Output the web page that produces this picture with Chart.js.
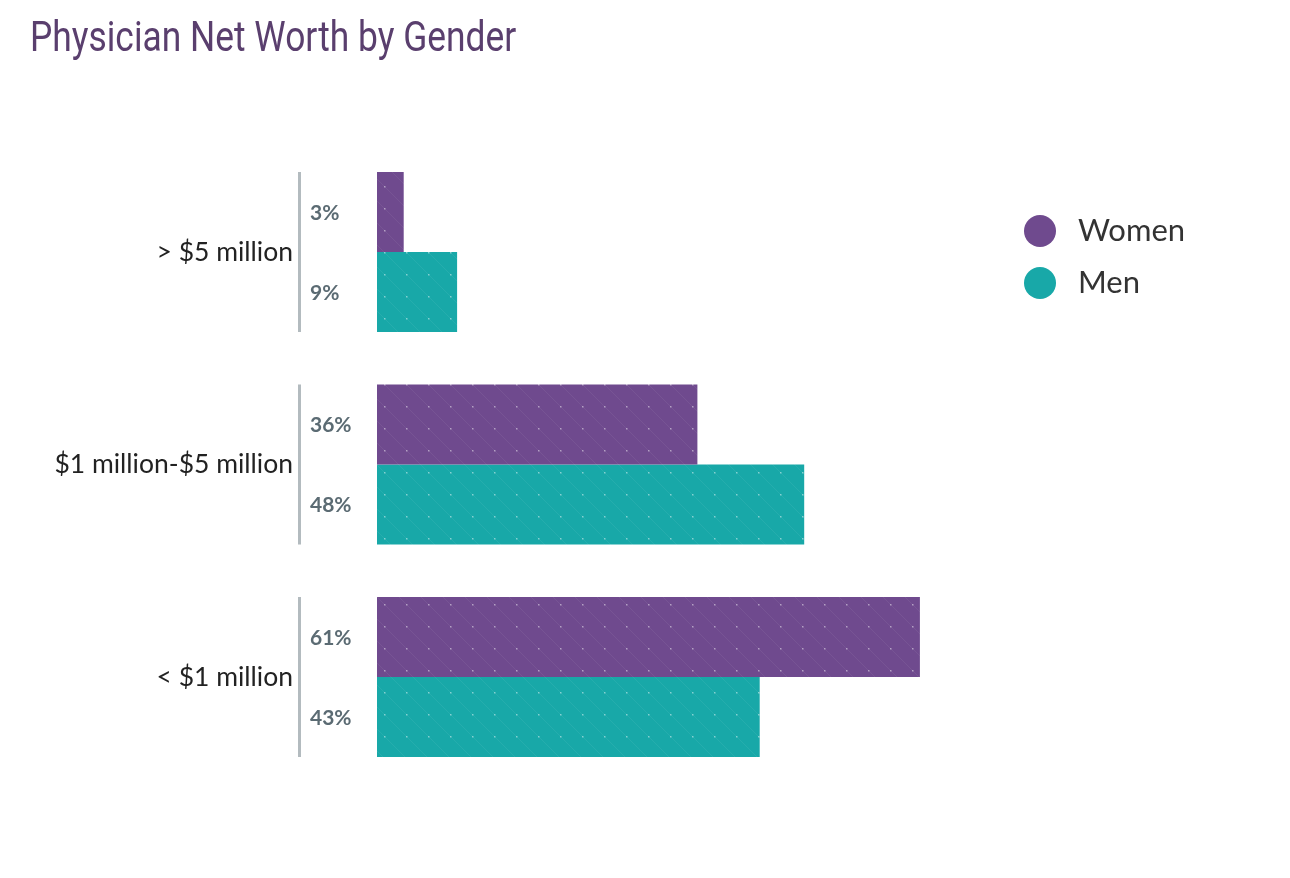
<!DOCTYPE html>
<html>
<head>
<meta charset="utf-8">
<script src="https://cdn.jsdelivr.net/npm/chart.js@4.4.1/dist/chart.umd.min.js"></script>
<style>
  html, body { margin: 0; padding: 0; background: #ffffff; }
  #wrap { position: relative; width: 1290px; height: 878px; }
  #title {
    position: absolute; left: 30px; top: 12px; margin: 0;
    font-family: Roboto, "Liberation Sans", sans-serif; font-weight: 400;
    font-size: 42px; color: #5a3f6e; white-space: nowrap;
    transform: scaleX(0.842); transform-origin: left top; letter-spacing: 0px;
  }
  canvas { position: absolute; left: 0; top: 0; }
</style>
</head>
<body>
<div id="wrap">
  <canvas id="c" width="1290" height="878"></canvas>
  <h1 id="title">Physician Net Worth by Gender</h1>
</div>
<script>
const categories = ['> $5 million', '$1 million-$5 million', '< $1 million'];
const seriesNames = ['Women', 'Men'];
const women = [3, 36, 61];
const men = [9, 48, 43];
const seriesColors = ['#6f4a8e', '#18a8a8'];

function makePattern(base) {
  const t = document.createElement('canvas');
  t.width = 22; t.height = 22;
  const g = t.getContext('2d');
  g.fillStyle = base; g.fillRect(0, 0, 22, 22);
  g.strokeStyle = 'rgba(255,255,255,0.06)'; g.lineWidth = 1;
  g.beginPath(); g.moveTo(0, 0); g.lineTo(22, 22); g.stroke();
  g.fillStyle = 'rgba(255,255,255,0.45)';
  g.fillRect(10, 10, 1.5, 1.5);
  return t.getContext('2d').createPattern(t, 'repeat');
}

const sidePlugin = {
  id: 'side',
  afterDatasetsDraw(chart) {
    const ctx = chart.ctx;
    const left = chart.chartArea.left;
    const m0 = chart.getDatasetMeta(0), m1 = chart.getDatasetMeta(1);
    ctx.save();
    for (let i = 0; i < categories.length; i++) {
      const a = m0.data[i], b = m1.data[i];
      const top = a.y - a.height / 2, bot = b.y + b.height / 2;
      ctx.fillStyle = '#b3bbbf';
      ctx.fillRect(left - 79, top, 3, bot - top);
      ctx.fillStyle = '#5b6b73';
      ctx.font = '700 21px Lato, "Noto Sans", sans-serif';
      ctx.textAlign = 'left'; ctx.textBaseline = 'middle';
      ctx.fillText(women[i] + '%', left - 67, a.y + 1);
      ctx.fillText(men[i] + '%', left - 67, b.y + 1);
    }
    // legend
    const lx = 1040, ly = [231, 283];
    ctx.font = '400 31px Lato, "Noto Sans", sans-serif';
    ctx.textBaseline = 'middle'; ctx.textAlign = 'left';
    seriesNames.forEach((n, k) => {
      ctx.fillStyle = seriesColors[k];
      ctx.beginPath(); ctx.arc(lx, ly[k], 16, 0, Math.PI * 2); ctx.fill();
      ctx.fillStyle = '#333333';
      ctx.fillText(n, lx + 38, ly[k]);
    });
    ctx.restore();
  }
};

new Chart(document.getElementById('c'), {
  type: 'bar',
  data: {
    labels: categories,
    datasets: [
      { label: seriesNames[0], data: women, backgroundColor: makePattern(seriesColors[0]), borderWidth: 0 },
      { label: seriesNames[1], data: men, backgroundColor: makePattern(seriesColors[1]), borderWidth: 0 }
    ]
  },
  options: {
    indexAxis: 'y',
    responsive: false,
    devicePixelRatio: 1,
    animation: false,
    datasets: { bar: { barPercentage: 1, categoryPercentage: 0.753 } },
    layout: { padding: { top: 145.75, bottom: 94.75, left: 0, right: 290 } },
    plugins: { legend: { display: false }, tooltip: { enabled: false }, title: { display: false } },
    scales: {
      x: { display: false, min: 0, max: 70 },
      y: {
        grid: { display: false, drawTicks: false },
        border: { display: false },
        afterFit(scale) { scale.width = 377; },
        ticks: {
          padding: 84,
          color: '#222222',
          font: { family: 'Lato, "Noto Sans", sans-serif', size: 26.5, weight: '400', lineHeight: 0.7 }
        }
      }
    }
  },
  plugins: [sidePlugin]
});
</script>
</body>
</html>
